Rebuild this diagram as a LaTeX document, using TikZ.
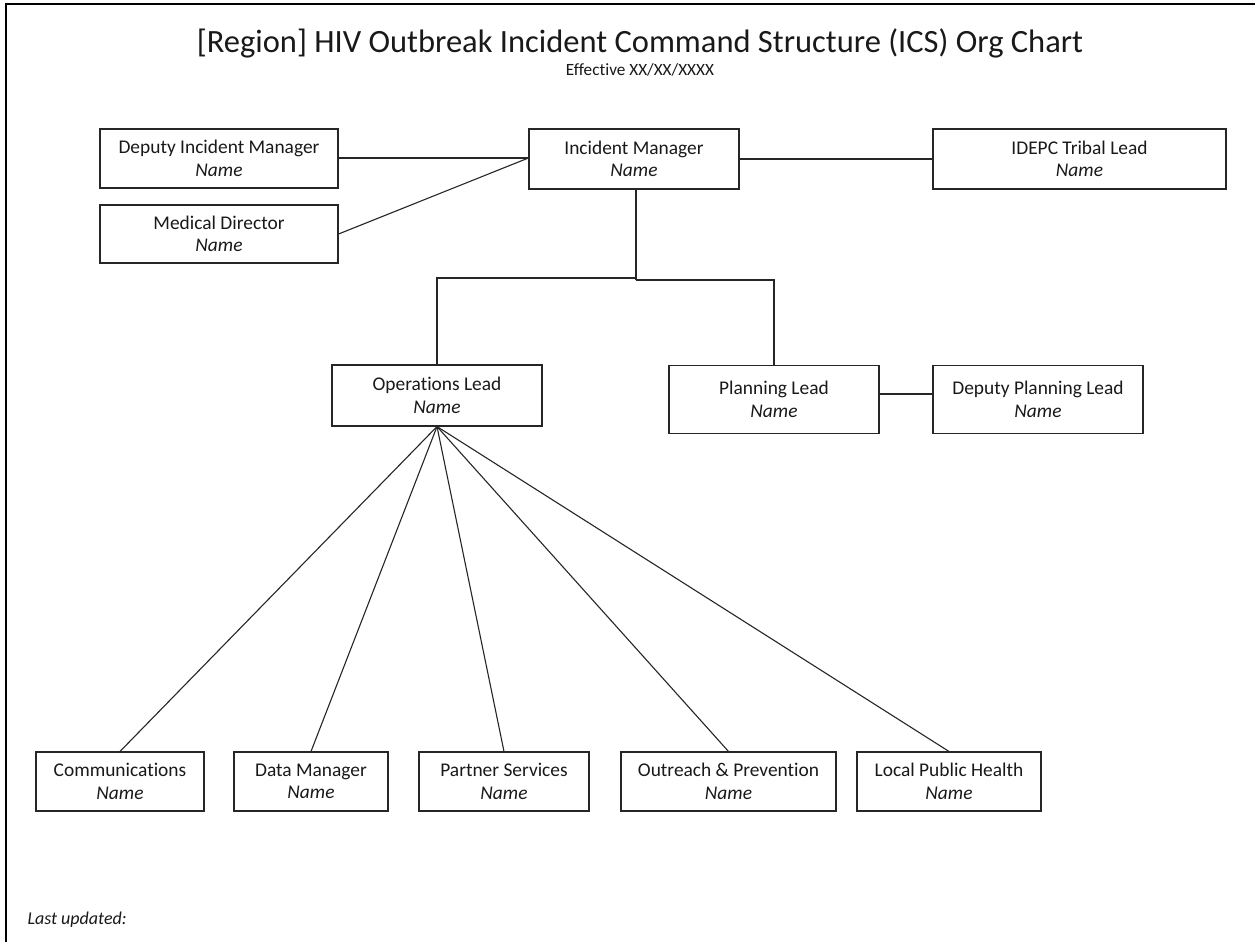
\documentclass[tikz,border=0pt]{standalone}
\usepackage{fontspec}
\setmainfont{Carlito}[Ligatures=NoCommon]
\begin{document}
\begin{tikzpicture}[x=1pt,y=-1pt,
  orgbox/.style={draw=black!85, line width=1.1pt, fill=white, inner sep=0pt, align=center,
    text=black!90, font=\fontsize{19.4}{22.5}\selectfont},
  conn/.style={draw=black!85, line width=1.1pt}]
\useasboundingbox (0,0) rectangle (1255,942);
\fill[white] (0,0) rectangle (1255,942);
% frame
\draw[line width=2pt] (6,942) -- (6,4) -- (1255,4);
% title
\node[text=black!90, font=\fontsize{32.5}{36}\selectfont] (title) at (640,43) {[Region] HIV Outbreak Incident Command Structure (ICS) Org Chart};
\node[text=black!90, font=\fontsize{17.2}{20}\selectfont] (eff) at (640,70) {Effective XX/XX/XXXX};
% boxes
\node[orgbox, minimum width=238pt, minimum height=59pt] (dim) at (219,158.5) {Deputy Incident Manager\\\textit{Name}};
\node[orgbox, minimum width=238pt, minimum height=58pt] (md) at (219,234) {Medical Director\\\textit{Name}};
\node[orgbox, minimum width=210pt, minimum height=60pt] (im) at (634,159) {Incident Manager\\\textit{Name}};
\node[orgbox, minimum width=293pt, minimum height=60pt] (idepc) at (1079.5,159) {IDEPC Tribal Lead\\\textit{Name}};
\node[orgbox, minimum width=210pt, minimum height=61pt] (ops) at (437,395.5) {Operations Lead\\\textit{Name}};
\node[orgbox, minimum width=210pt, minimum height=68pt] (plan) at (774,399.5) {Planning Lead\\\textit{Name}};
\node[orgbox, minimum width=210pt, minimum height=68pt] (dpl) at (1038,399.5) {Deputy Planning Lead\\\textit{Name}};
\node[orgbox, minimum width=168pt, minimum height=59pt] (comm) at (120,781.5) {Communications\\\textit{Name}};
\node[orgbox, minimum width=154pt, minimum height=59pt] (dm) at (311,781.5) {Data Manager\\\textit{Name}};
\node[orgbox, minimum width=170pt, minimum height=59pt] (ps) at (504,781.5) {Partner Services\\\textit{Name}};
\node[orgbox, minimum width=215pt, minimum height=59pt] (op) at (728.5,781.5) {Outreach \& Prevention\\\textit{Name}};
\node[orgbox, minimum width=184pt, minimum height=59pt] (lph) at (949,781.5) {Local Public Health\\\textit{Name}};
\node[anchor=west, text=black!90, font=\fontsize{18}{20}\selectfont\itshape] (upd) at (24,920) {Last updated:};
% connectors
\coordinate (jl) at ([xshift=2pt]im.south |- 0,278);
\coordinate (jr) at ([xshift=2pt]im.south |- 0,280);
\draw[conn] (dim.east |- 0,158) -- (im.west |- 0,158);
\draw[conn] (md.east) -- (im.west |- 0,158);
\draw[conn] (im.east) -- (idepc.west);
\draw[conn] ([xshift=2pt]im.south) -- (jr);
\draw[conn] (jl) -- (jl -| ops.north) -- (ops.north);
\draw[conn] (jr) -- (jr -| plan.north) -- (plan.north);
\draw[conn] (plan.east |- 0,394) -- (dpl.west |- 0,394);
\foreach \t in {comm,dm,ps,op,lph}
  \draw[conn] (ops.south) -- (\t.north);
\end{tikzpicture}
\end{document}
